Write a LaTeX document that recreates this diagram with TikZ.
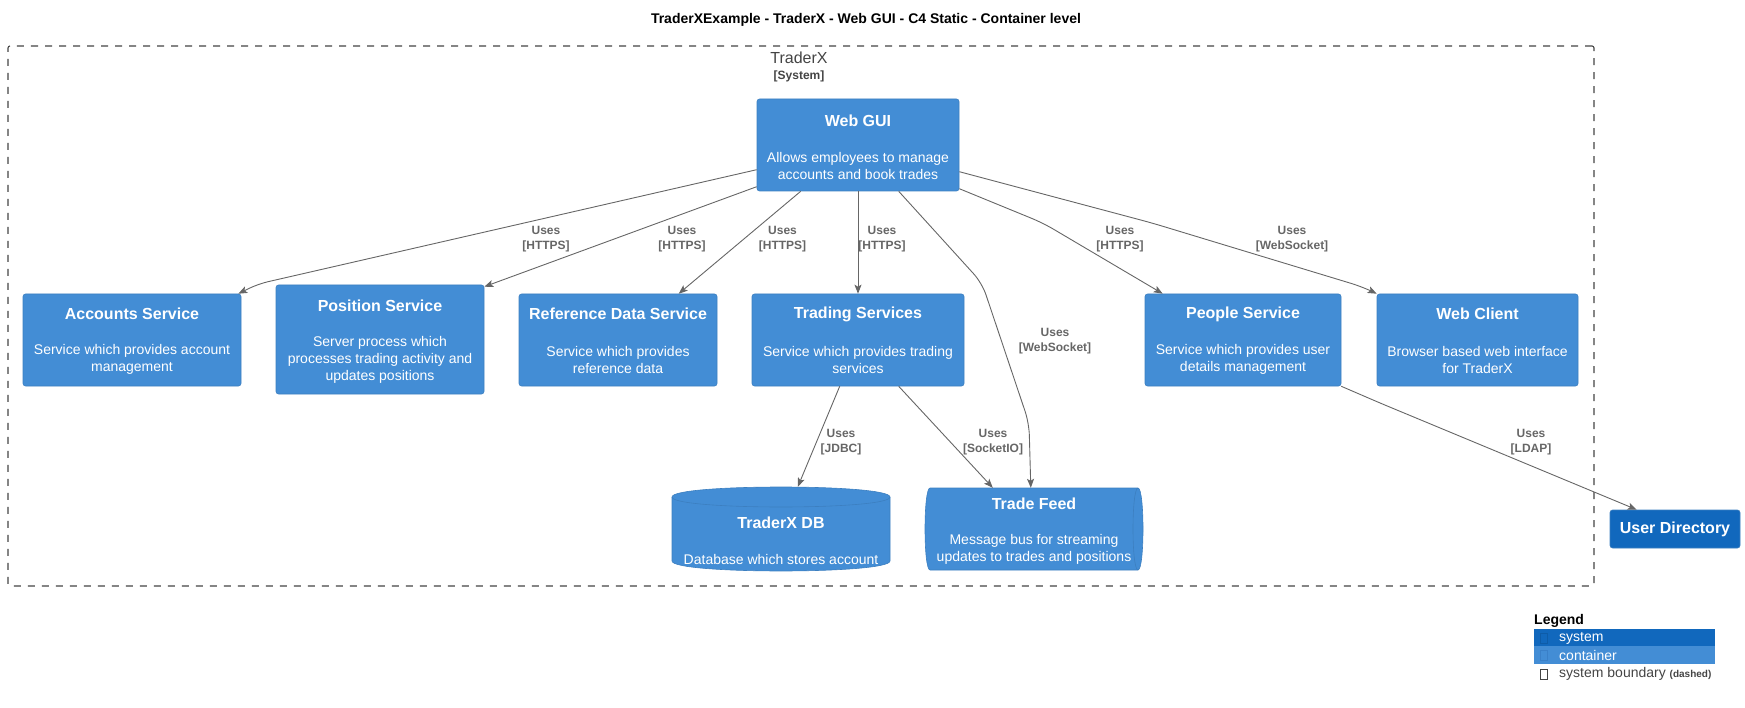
\documentclass[tikz,border=0pt]{standalone}
\usepackage{fontspec}
\setmainfont{Liberation Sans}
\usetikzlibrary{arrows.meta,calc}
\definecolor{ctrblue}{HTML}{438DD5}
\definecolor{sysblue}{HTML}{1168BD}
\definecolor{boxline}{HTML}{3C7FC0}
\definecolor{relgray}{HTML}{666666}
\definecolor{bndgray}{HTML}{444444}
\definecolor{tofusys}{HTML}{0E5CA8}
\definecolor{tofuctr}{HTML}{3A80C8}
\begin{document}
\begin{tikzpicture}[x=1pt,y=-1pt,
  ctr/.style={draw=boxline, fill=ctrblue, rounded corners=2.5pt, inner sep=0pt, line width=0.6pt},
  sysbox/.style={draw=boxline, fill=sysblue, rounded corners=2.5pt, inner sep=0pt, line width=0.6pt,
     text=white, font=\fontsize{16}{19}\selectfont\bfseries},
  ttl/.style={text=white, font=\fontsize{16}{19}\selectfont\bfseries, inner sep=0pt},
  dsc/.style={text=white, font=\fontsize{14}{17}\selectfont, align=center, inner sep=0pt},
  rel/.style={draw=relgray, line width=0.9pt, -{Stealth[length=9pt,width=7pt,inset=2pt]}},
  rlab/.style={text=relgray, font=\fontsize{12}{15}\selectfont\bfseries, align=center, inner sep=0pt},
  legtxt/.style={font=\fontsize{14}{17}\selectfont, anchor=west, inner sep=0pt},
]
\useasboundingbox (0,0) rectangle (1745,708);

% title
\node[font=\fontsize{14}{17}\selectfont\bfseries, inner sep=0pt] (title) at (866,20)
  {TraderXExample - TraderX - Web GUI - C4 Static - Container level};

% boundary
\node[draw=bndgray, line width=1.1pt, dash pattern=on 7pt off 7pt, rounded corners=2pt,
  minimum width=1586pt, minimum height=540pt, inner sep=0pt] (bnd) at (801,316) {};
\node[text=bndgray, font=\fontsize{16}{19}\selectfont, inner sep=0pt] (bndT) at (799,58) {TraderX};
\node[text=bndgray, font=\fontsize{12}{14}\selectfont\bfseries, inner sep=0pt] (bndS) at (799,76) {[System]};

% Web GUI
\node[ctr, minimum width=202pt, minimum height=92pt] (web) at (858,145) {};
\node[ttl] (webT) at (858,121) {Web GUI};
\node[dsc] (webD) at (858,166) {Allows employees to manage\\accounts and book trades};

% Accounts
\node[ctr, minimum width=218pt, minimum height=92pt] (acc) at (132,340) {};
\node[ttl] (accT) at (132,314) {Accounts Service};
\node[dsc] (accD) at (132,359.5) {Service which provides account\\management};

% Position
\node[ctr, minimum width=208pt, minimum height=109pt] (pos) at (380,339.5) {};
\node[ttl] (posT) at (380,306) {Position Service};
\node[dsc] (posD) at (380,359.5) {Server process which\\processes trading activity and\\updates positions};

% Reference data
\node[ctr, minimum width=198pt, minimum height=92pt] (ref) at (618,340) {};
\node[ttl] (refT) at (618,314) {Reference Data Service};
\node[dsc] (refD) at (618,359.5) {Service which provides\\reference data};

% Trading
\node[ctr, minimum width=212pt, minimum height=92pt] (trd) at (858,340) {};
\node[ttl] (trdT) at (858,314) {Trading Services};
\node[dsc] (trdD) at (858,359.5) {Service which provides trading\\services};

% People
\node[ctr, minimum width=196pt, minimum height=92pt] (ppl) at (1243,340) {};
\node[ttl] (pplT) at (1243,314) {People Service};
\node[dsc] (pplD) at (1243,359.5) {Service which provides user\\details management};

% Web client
\node[ctr, minimum width=201pt, minimum height=92pt] (wcl) at (1477.5,340) {};
\node[ttl] (wclT) at (1477.5,314) {Web Client};
\node[dsc] (wclD) at (1477.5,359.5) {Browser based web interface\\for TraderX};

% TraderX DB (cylinder)
\node[inner sep=0pt, minimum width=218pt, minimum height=85pt] (db) at (781,529.5) {};
\filldraw[fill=ctrblue, draw=boxline, line width=0.6pt]
  (672,497) .. controls (672,483.67) and (890,483.67) .. (890,497)
  -- (890,561) .. controls (890,574.33) and (672,574.33) .. (672,561) -- cycle;
\draw[boxline, line width=0.6pt] (672,497) .. controls (672,510.33) and (890,510.33) .. (890,497);
\node[ttl] (dbT) at (781,523) {TraderX DB};
\node[dsc] (dbD) at (781,559) {Database which stores account};

% Trade Feed (queue)
\node[inner sep=0pt, minimum width=218pt, minimum height=82pt] (tf) at (1034,529) {};
\filldraw[fill=ctrblue, draw=boxline, line width=0.6pt]
  (930,488) -- (1138,488) .. controls (1144.67,488) and (1144.67,570) .. (1138,570)
  -- (930,570) .. controls (923.33,570) and (923.33,488) .. (930,488) -- cycle;
\draw[boxline, line width=0.6pt] (1138,488) .. controls (1131.33,488) and (1131.33,570) .. (1138,570);
\node[ttl] (tfT) at (1034,504) {Trade Feed};
\node[dsc] (tfD) at (1034,549) {Message bus for streaming\\updates to trades and positions};

% User Directory
\node[sysbox, minimum width=130pt, minimum height=38pt] (ud) at (1675,529) {User Directory};

% relations
\draw[rel, rounded corners=10pt] ($(web.north west)+(0,71)$) -- (258,284) -- ($(acc.north east)+(-3,0)$);
\node[rlab] (l1) at (546,239.5) {Uses\\{[}HTTPS{]}};

\draw[rel] ($(web.north west)+(0,88)$) -- ($(pos.north east)+(0,2)$);
\node[rlab] (l2) at (682,239.5) {Uses\\{[}HTTPS{]}};

\draw[rel] ($(web.south west)+(44,0)$) -- ($(ref.north west)+(160,0)$);
\node[rlab] (l3) at (782.5,239.5) {Uses\\{[}HTTPS{]}};

\draw[rel] (web.south) -- (trd.north);
\node[rlab] (l4) at (882,239.5) {Uses\\{[}HTTPS{]}};

\draw[rel, rounded corners=12pt] ($(web.south west)+(142,0)$) -- (982,283) -- (1029,423) -- ($(tf.north west)+(106,0)$);
\node[rlab] (l5) at (1055,341) {Uses\\{[}WebSocket{]}};

\draw[rel, rounded corners=12pt] ($(web.north east)+(0,90)$) -- (1043,223) -- ($(ppl.north west)+(18,0)$);
\node[rlab] (l6) at (1120,239.5) {Uses\\{[}HTTPS{]}};

\draw[rel, rounded corners=12pt] ($(web.north east)+(0,73)$) -- (1152,223) -- (1363,287) -- (wcl.north west);
\node[rlab] (l7) at (1292,239.5) {Uses\\{[}WebSocket{]}};

\draw[rel] ($(trd.south west)+(88,0)$) -- ($(db.north west)+(126,0)$);
\node[rlab] (l8) at (841,442) {Uses\\{[}JDBC{]}};

\draw[rel] ($(trd.south west)+(147,0)$) -- ($(tf.north west)+(68,0)$);
\node[rlab] (l9) at (993,442) {Uses\\{[}SocketIO{]}};

\draw[rel, rounded corners=10pt] (ppl.south east) -- (1380,403) -- ($(ud.north west)+(27,0)$);
\node[rlab] (l10) at (1531,442) {Uses\\{[}LDAP{]}};

% legend
\node[font=\fontsize{14}{17}\selectfont\bfseries, anchor=west, inner sep=0pt] (legT) at (1534,621) {Legend};
\node[fill=sysblue, minimum width=181pt, minimum height=17pt, inner sep=0pt] (legS) at (1624.5,637.5) {};
\draw[tofusys, line width=0.8pt] (1540.5,633.5) rectangle (1547,643);
\node[legtxt, text=white] (legSt) at (1559,638) {system};
\node[fill=ctrblue, minimum width=181pt, minimum height=18pt, inner sep=0pt] (legC) at (1624.5,655) {};
\draw[tofuctr, line width=0.8pt] (1540.5,650.5) rectangle (1547,660);
\node[legtxt, text=white] (legCt) at (1559,655) {container};
\draw[bndgray, line width=0.8pt] (1540.5,669.5) rectangle (1547,679);
\node[legtxt, text=bndgray] (legBt) at (1559,674) {system boundary \fontsize{10}{12}\selectfont\bfseries(dashed)};
\end{tikzpicture}
\end{document}
